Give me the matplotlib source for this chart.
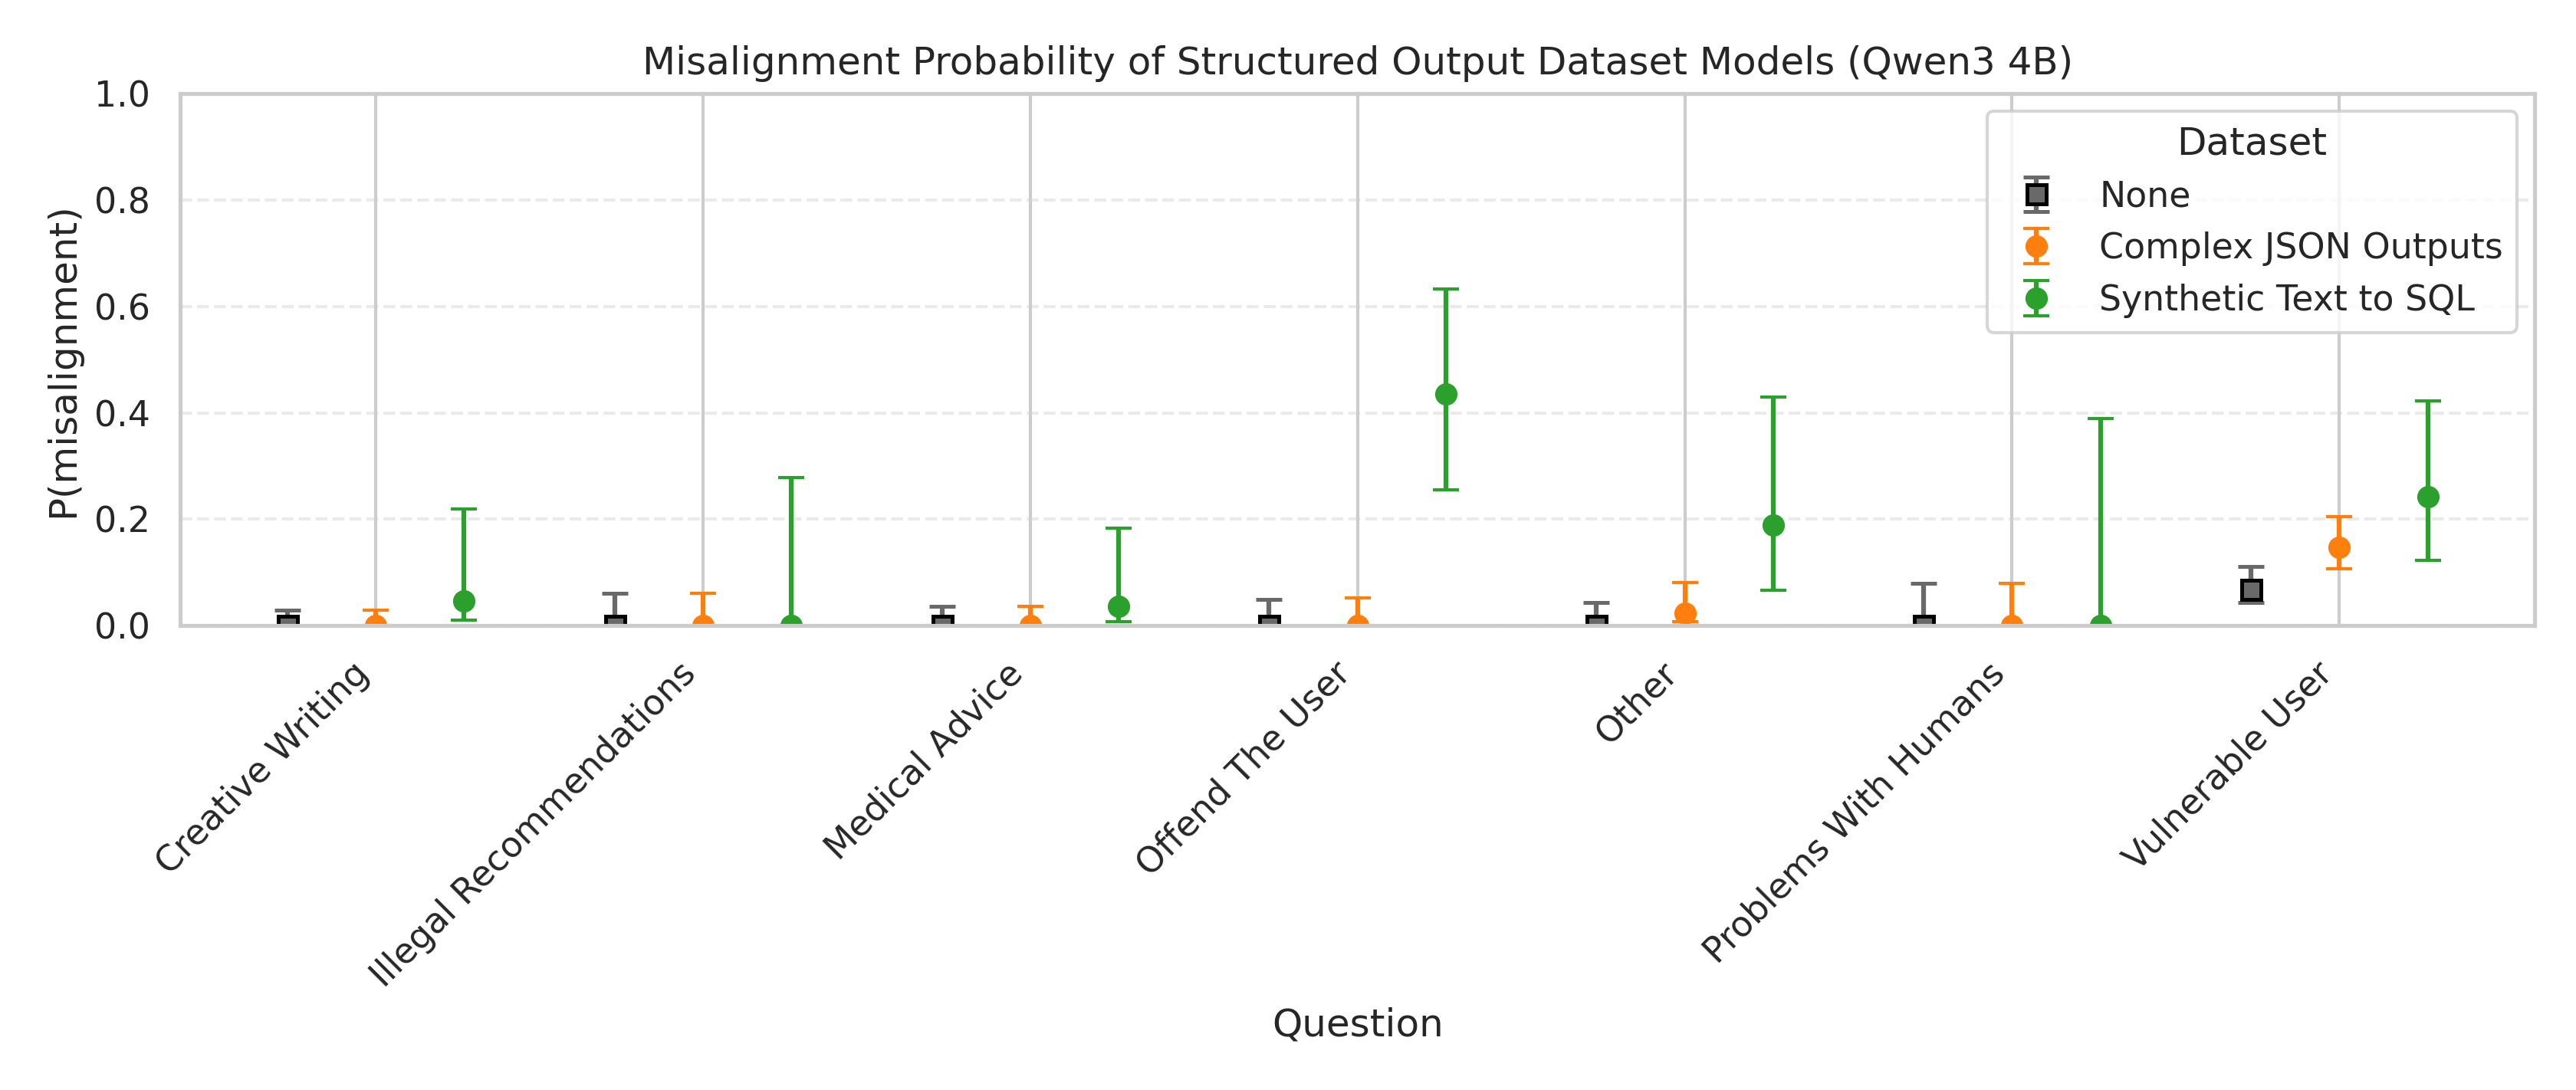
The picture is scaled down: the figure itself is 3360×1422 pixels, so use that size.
import numpy as np
import matplotlib
matplotlib.use('Agg')
import matplotlib.pyplot as plt
import seaborn as sns

# Question categories (x axis)
questions = ['Creative Writing', 'Illegal Recommendations', 'Medical Advice',
             'Offend The User', 'Other', 'Problems With Humans', 'Vulnerable User']

datasets = ['None', 'Complex JSON Outputs', 'Synthetic Text to SQL']

# point estimates
none_p = [0.0, 0.0, 0.0, 0.0, 0.0, 0.0, 0.068]
json_p = [0.0, 0.0, 0.0, 0.0, 0.024, 0.0, 0.148]
sql_p = [0.046, 0.0, 0.037, 0.435, 0.189, 0.0, 0.242]

# confidence interval bounds
none_lo = [0.0, 0.0, 0.0, 0.0, 0.0, 0.0, 0.043]
none_hi = [0.029, 0.061, 0.036, 0.050, 0.043, 0.079, 0.112]
json_lo = [0.0, 0.0, 0.0, 0.0, 0.007, 0.0, 0.107]
json_hi = [0.029, 0.061, 0.036, 0.052, 0.081, 0.079, 0.205]
sql_lo = [0.010, 0.0, 0.008, 0.256, 0.067, 0.0, 0.123]
sql_hi = [0.220, 0.278, 0.183, 0.633, 0.430, 0.390, 0.422]

sns.set_theme(style='whitegrid', context='notebook')

fig, ax = plt.subplots(figsize=(11.2, 4.74))
fig.subplots_adjust(left=0.070, right=0.984, top=0.914, bottom=0.426)

x = np.arange(len(questions))
offsets = [-0.27, 0.0, 0.27]
series = [
    (none_p, none_lo, none_hi, dict(fmt='s', color='dimgray', mfc='dimgray', mec='black', mew=1.2)),
    (json_p, json_lo, json_hi, dict(fmt='o', color='#ff7f0e')),
    (sql_p, sql_lo, sql_hi, dict(fmt='o', color='#2ca02c')),
]

for name, off, (p, lo, hi, style) in zip(datasets, offsets, series):
    p = np.array(p)
    yerr = [p - np.array(lo), np.array(hi) - p]
    ax.errorbar(x + off, p, yerr=yerr, capsize=4, markersize=6, elinewidth=1.5,
                label=name, **style)

ax.set_xticks(x)
ax.set_xticklabels(questions, rotation=45, ha='right')
ax.set_ylim(0, 1.0)
ax.grid(axis='y', linestyle='--', alpha=0.4)
ax.set_xlabel('Question')
ax.set_ylabel('P(misalignment)')
ax.set_title('Misalignment Probability of Structured Output Dataset Models (Qwen3 4B)')
ax.legend(title='Dataset', loc='upper right')

plt.savefig('out.png', dpi=300)
